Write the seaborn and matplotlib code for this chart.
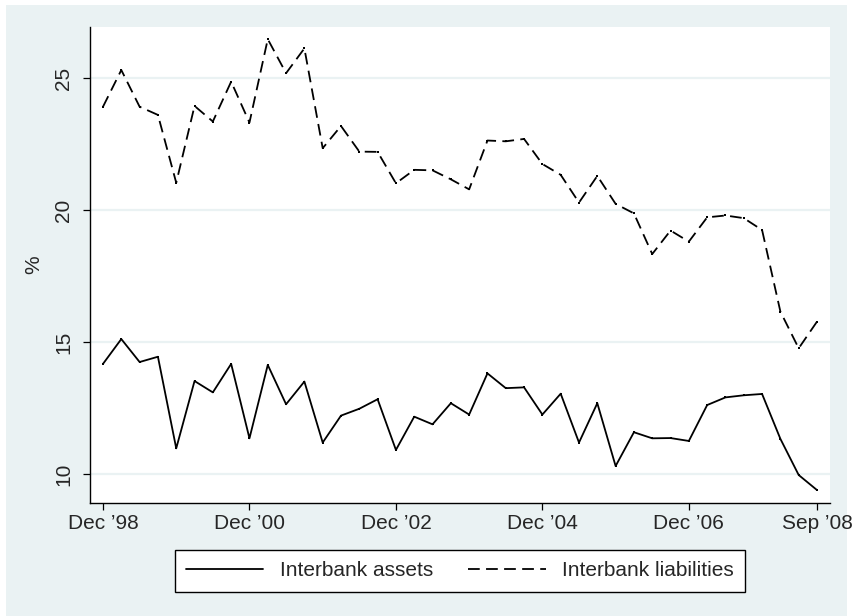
import matplotlib
matplotlib.use("Agg")
import matplotlib.pyplot as plt
from matplotlib.patches import Rectangle
import seaborn as sns
import pandas as pd

quarters = ["Dec 98","Mar 99","Jun 99","Sep 99","Dec 99","Mar 00","Jun 00","Sep 00",
            "Dec 00","Mar 01","Jun 01","Sep 01","Dec 01","Mar 02","Jun 02","Sep 02",
            "Dec 02","Mar 03","Jun 03","Sep 03","Dec 03","Mar 04","Jun 04","Sep 04",
            "Dec 04","Mar 05","Jun 05","Sep 05","Dec 05","Mar 06","Jun 06","Sep 06",
            "Dec 06","Mar 07","Jun 07","Sep 07","Dec 07","Mar 08","Jun 08","Sep 08"]

interbank_assets = [14.17, 15.11, 14.24, 14.44, 10.97, 13.52, 13.09, 14.17,
                    11.35, 14.13, 12.64, 13.50, 11.19, 12.21, 12.47, 12.83,
                    10.91, 12.17, 11.88, 12.68, 12.25, 13.81, 13.25, 13.28,
                    12.25, 13.04, 11.19, 12.68, 10.30, 11.58, 11.35, 11.36,
                    11.25, 12.61, 12.90, 12.98, 13.03, 11.33, 9.96, 9.39]

interbank_liabilities = [23.91, 25.30, 23.91, 23.60, 21.03, 23.94, 23.35, 24.86,
                         23.31, 26.47, 25.18, 26.12, 22.34, 23.18, 22.21, 22.20,
                         21.01, 21.52, 21.50, 21.16, 20.78, 22.63, 22.60, 22.69,
                         21.74, 21.33, 20.28, 21.29, 20.23, 19.87, 18.33, 19.22,
                         18.80, 19.72, 19.79, 19.69, 19.24, 16.15, 14.76, 15.77]

tick_quarters = ["Dec 98", "Dec 00", "Dec 02", "Dec 04", "Dec 06", "Sep 08"]
tick_labels = ["Dec \u201998", "Dec \u201900", "Dec \u201902", "Dec \u201904", "Dec \u201906", "Sep \u201908"]
y_ticks = [10, 15, 20, 25]

sns.set_theme(style="white")
plt.rcParams['font.family'] = ['Liberation Sans', 'DejaVu Sans']

BG = "#EAF2F3"

fig = plt.figure(figsize=(8.53, 6.16), dpi=100, facecolor="white")
fig.patches.append(Rectangle((6/853, 0), (847-6)/853, 1 - 5/616,
                             transform=fig.transFigure, facecolor=BG,
                             edgecolor="none", zorder=-10))
ax = fig.add_axes([90/853, 1 - 503/616, (830-90)/853, (503-27)/616])
ax.set_facecolor("white")

df = pd.DataFrame({"q": list(range(len(quarters))),
                   "assets": interbank_assets,
                   "liab": interbank_liabilities})

sns.lineplot(data=df, x="q", y="assets", ax=ax, color="black", lw=1.3,
             marker="s", markersize=1.6, markeredgewidth=0, label="Interbank assets")
sns.lineplot(data=df, x="q", y="liab", ax=ax, color="black", lw=1.3,
             linestyle=(0, (6.5, 3.5)), marker="s", markersize=1.6, markeredgewidth=0,
             label="Interbank liabilities")

for v in y_ticks:
    ax.axhline(v, color=BG, lw=1.6, zorder=0)

ax.set_xlim(-0.71, 39.71)
ax.set_ylim(8.90, 26.93)
xt = [quarters.index(q) for q in tick_quarters]
ax.set_xticks(xt)
ax.set_xticklabels(tick_labels, fontsize=15)
ax.set_yticks(y_ticks)
ax.set_yticklabels([str(v) for v in y_ticks], fontsize=15, rotation=90, va="center")
ax.tick_params(axis="both", direction="out", length=5, width=0.9, color="black",
               left=True, bottom=True)
ax.tick_params(axis="y", pad=7)
ax.tick_params(axis="x", pad=3)
ax.set_xlabel("")
ax.set_ylabel("%", fontsize=15, labelpad=8)

for s in ["top", "right"]:
    ax.spines[s].set_visible(False)
for s in ["left", "bottom"]:
    ax.spines[s].set_color("black")
    ax.spines[s].set_linewidth(1.0)

leg = ax.legend(loc="center", bbox_to_anchor=(460/853, 1 - 571/616),
                bbox_transform=fig.transFigure, ncol=2, fontsize=15,
                frameon=True, fancybox=False, framealpha=1, edgecolor="black",
                handlelength=3.7, columnspacing=1.7, handletextpad=0.8,
                borderpad=0.55)
leg.get_frame().set_linewidth(1.0)
for h in leg.legend_handles:
    h.set_marker("")

fig.savefig("out.png", dpi=100, facecolor=fig.get_facecolor())
